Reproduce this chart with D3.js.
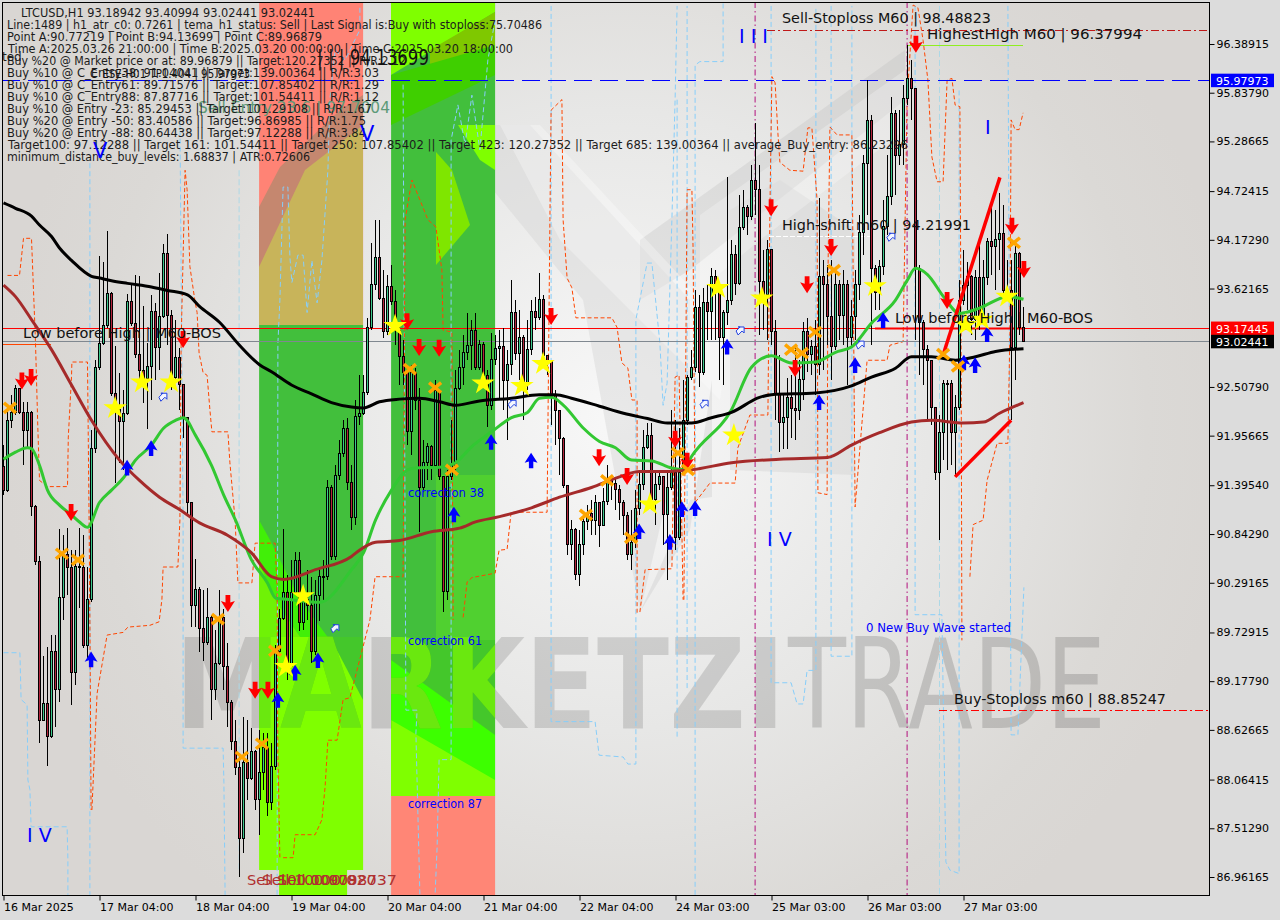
<!DOCTYPE html>
<html><head><meta charset="utf-8">
<style>
html,body{margin:0;padding:0;background:#dcdcdc;overflow:hidden}
svg{display:block}
text{font-family:"DejaVu Sans",sans-serif}
</style>
<script src="https://cdn.jsdelivr.net/npm/d3@7/dist/d3.min.js"></script>
</head><body><div id="chart"></div>
<script>
const firstOpen = 91.61;
const closes = [
91.34,92.13,92.22,92.49,92.22,92.01,92.22,91.15,90.53,88.73,
88.93,88.55,89.51,89.08,90.13,90.61,90.46,89.28,90.48,90.47,
89.58,90.10,91.81,92.73,93.00,93.20,93.57,92.43,92.25,92.12,
92.21,93.48,93.23,92.87,92.69,92.60,92.74,93.36,92.95,93.31,
94.02,93.32,92.62,92.84,92.53,92.16,91.20,90.04,90.22,89.77,
89.62,89.90,89.08,89.38,89.90,89.34,88.94,88.49,88.20,87.40,
88.26,88.08,88.38,87.84,88.14,88.43,87.81,88.21,89.51,89.89,
90.18,89.34,90.18,90.54,89.84,90.10,90.04,89.51,90.15,90.36,
90.36,91.37,90.59,91.51,91.75,92.04,91.43,91.03,92.17,92.21,
92.44,93.18,93.67,93.97,93.51,93.13,93.65,93.47,93.15,92.85,
92.67,92.00,92.67,92.36,91.37,91.65,91.83,91.62,92.47,91.49,
90.19,91.49,91.62,92.49,92.73,92.90,92.98,93.15,92.73,92.99,
92.64,92.30,92.82,92.94,92.97,92.58,92.76,93.35,92.89,93.07,
92.55,92.93,93.36,93.29,93.50,92.86,92.80,92.42,92.24,91.93,
91.39,90.72,90.90,90.38,90.72,90.98,91.07,91.00,91.20,90.94,
91.21,91.45,91.42,91.35,91.20,91.05,90.61,90.75,91.13,91.40,
91.82,91.96,91.23,91.40,91.49,91.06,91.37,91.54,90.80,91.54,
92.13,92.62,92.73,93.41,92.67,93.46,93.36,93.76,93.64,93.07,
93.35,93.49,94.01,93.68,94.31,94.54,94.44,94.84,94.74,93.70,
93.55,94.06,93.14,92.42,92.11,92.16,92.39,92.26,92.24,92.59,
93.13,92.87,92.96,92.76,93.76,93.67,93.30,92.97,93.67,93.32,
93.67,93.07,93.30,93.67,94.26,95.04,95.52,93.85,93.58,93.87,
94.32,94.66,95.60,95.13,95.25,95.77,96.00,95.88,93.85,93.24,
92.93,92.81,92.27,91.54,91.99,92.55,92.55,91.99,92.28,93.49,
93.66,93.76,93.27,93.75,93.27,93.75,94.15,94.10,94.18,94.25,
93.60,93.60,92.95,94.02,93.18,93.02];
const highs = [
91.85,92.27,92.42,92.53,92.50,92.34,92.34,92.24,91.17,90.60,
89.46,89.57,89.70,89.70,90.90,90.83,90.91,90.66,90.66,90.91,
90.83,90.47,92.02,92.81,93.99,93.92,94.27,93.58,92.97,92.67,
92.47,93.56,93.66,93.78,93.76,93.42,93.00,93.55,93.46,93.80,
94.13,94.24,93.38,93.27,92.95,92.54,92.16,91.20,90.56,90.24,
90.21,90.23,89.93,89.76,90.21,89.99,89.61,88.97,88.74,88.34,
88.77,88.74,88.65,88.40,88.63,88.59,88.59,88.48,89.59,89.99,
90.90,90.38,90.55,90.64,90.64,90.21,90.44,90.36,90.32,90.46,
90.55,91.45,91.40,91.62,91.91,92.13,92.16,91.62,92.36,92.64,
92.64,93.29,94.14,94.40,94.40,93.83,93.78,93.89,93.60,93.21,
93.04,92.76,92.76,92.72,92.50,91.91,91.87,91.85,92.59,92.47,
91.49,91.57,92.13,92.70,92.93,93.10,93.35,93.27,93.35,93.04,
93.02,92.70,93.12,93.10,93.15,93.18,92.93,93.72,93.49,93.38,
93.10,93.27,93.49,93.53,93.80,93.55,92.87,92.81,92.47,92.25,
91.94,91.39,91.00,90.91,90.89,91.06,91.17,91.23,91.29,91.20,
91.36,91.62,91.48,91.48,91.40,91.23,91.09,91.12,91.34,91.57,
92.02,92.10,92.10,91.57,91.57,91.26,91.55,92.25,92.13,92.04,
92.59,92.64,92.93,93.60,93.55,93.63,93.66,93.85,93.83,93.66,
93.38,94.88,94.17,94.11,94.68,94.74,94.57,95.02,95.49,95.02,
94.06,94.17,94.06,93.27,92.87,92.42,92.61,92.64,92.98,92.81,
93.24,93.29,93.04,93.27,94.65,93.94,93.89,93.94,93.83,93.72,
93.83,93.72,93.49,93.83,94.45,95.13,95.98,95.59,93.89,93.94,
94.62,95.13,95.79,95.64,95.64,95.93,96.38,96.21,95.89,93.89,
93.27,92.98,92.81,92.27,92.19,92.59,92.59,92.59,92.42,93.72,
94.06,93.92,93.78,93.83,94.17,93.94,94.19,94.57,94.51,94.70,
94.57,93.94,93.94,94.11,94.03,93.41];
const lows = [
91.29,91.32,92.04,92.19,92.20,91.62,91.80,91.05,90.49,88.48,
88.73,88.22,88.54,88.66,88.94,89.87,90.15,88.91,89.14,90.01,
89.55,89.44,90.07,91.76,92.70,92.98,93.18,92.40,91.42,91.65,
91.57,92.19,93.20,92.84,92.51,92.33,92.03,92.36,92.59,92.70,
93.29,92.98,92.47,92.60,92.25,91.93,91.06,89.79,89.79,89.51,
89.41,89.59,88.74,88.97,89.36,89.08,88.66,88.40,88.12,86.96,
87.23,87.83,88.06,87.72,87.44,87.95,87.65,87.72,88.17,89.47,
89.87,89.19,89.36,90.15,89.75,89.76,89.87,89.38,89.47,89.86,
90.10,90.32,90.55,90.55,91.45,91.71,91.34,90.89,90.95,92.08,
92.19,92.42,93.15,93.60,93.49,93.06,93.10,93.44,92.98,92.53,
92.53,91.85,91.74,92.25,90.87,91.34,91.45,91.45,91.60,91.45,
89.96,90.10,91.45,91.57,92.47,92.53,92.81,92.70,92.70,92.70,
92.61,92.05,92.25,92.76,92.36,92.25,91.91,92.64,92.81,92.59,
92.13,92.47,92.87,93.15,93.27,92.76,92.64,92.08,91.85,91.51,
91.36,90.61,90.55,90.32,90.26,90.61,90.89,90.83,90.83,90.70,
91.00,91.17,91.23,91.12,91.00,90.83,90.55,90.44,90.69,91.06,
91.34,91.80,91.12,90.95,91.34,90.72,90.32,91.34,90.66,90.77,
91.51,92.08,92.59,92.68,92.51,92.64,93.04,93.04,93.04,92.59,
92.53,93.21,93.44,93.55,93.66,94.28,94.23,94.40,94.45,93.10,
93.15,93.04,92.98,92.13,91.77,91.80,91.80,91.93,91.91,92.13,
92.36,92.68,92.64,92.42,92.64,92.70,92.98,92.59,92.93,93.04,
92.98,92.53,92.95,93.04,93.49,94.00,94.45,92.98,93.38,93.38,
93.78,94.23,94.57,94.68,95.02,95.02,95.70,95.53,93.04,92.64,
92.53,92.13,92.08,91.45,90.77,91.68,91.57,91.62,91.51,92.25,
93.44,93.38,93.10,93.04,93.15,93.21,93.66,93.78,93.60,93.83,
93.49,93.49,92.13,92.59,93.10,93.02];

const timeTickBars = [0,24,48,72,96,120,144,168,192,216,240];
const timeTickLabels = ["16 Mar 2025","17 Mar 04:00","18 Mar 04:00","19 Mar 04:00","20 Mar 04:00","21 Mar 04:00","22 Mar 04:00","24 Mar 03:00","25 Mar 03:00","26 Mar 03:00","27 Mar 03:00"];
const priceTicks = [96.38915,95.83790,95.28665,94.72415,94.17290,93.62165,92.50790,91.95665,91.39540,90.84290,90.29165,89.72915,89.17790,88.62665,88.06415,87.51290,86.96165];

const maBlack = [[0,94.59],[3,94.53],[7,94.44],[9,94.34],[12,94.21],[14,94.08],[17,93.94],[22,93.76],[24,93.74],[27,93.71],[31,93.68],[37,93.64],[41,93.60],[46,93.55],[49,93.42],[54,93.24],[59,92.98],[64,92.76],[67,92.68],[72,92.53],[77,92.43],[82,92.33],[87,92.28],[90,92.27],[94,92.34],[99,92.37],[104,92.38],[109,92.34],[113,92.30],[119,92.35],[127,92.38],[134,92.42],[138,92.42],[142,92.38],[149,92.29],[155,92.21],[161,92.15],[166,92.10],[172,92.10],[177,92.16],[182,92.22],[189,92.39],[192,92.42],[203,92.44],[212,92.52],[217,92.62],[223,92.72],[227,92.85],[232,92.85],[238,92.81],[243,92.85],[248,92.91],[255,92.94]];
const maBrown = [[0,93.66],[3,93.53],[7,93.27],[12,92.93],[17,92.53],[22,92.13],[29,91.68],[34,91.45],[39,91.26],[44,91.12],[49,90.97],[56,90.83],[62,90.63],[67,90.36],[70,90.33],[78,90.44],[87,90.59],[89,90.66],[93,90.75],[99,90.77],[107,90.87],[114,90.91],[118,90.98],[124,91.04],[132,91.14],[139,91.26],[147,91.37],[154,91.49],[159,91.55],[165,91.55],[172,91.57],[182,91.65],[194,91.69],[206,91.71],[212,91.85],[219,91.99],[227,92.11],[232,92.13],[240,92.10],[245,92.11],[249,92.21],[255,92.33]];
const maGreen = [[0,91.69],[3,91.77],[6,91.82],[7,91.81],[9,91.62],[11,91.34],[14,91.17],[17,91.06],[19,90.98],[21,90.92],[24,91.20],[27,91.34],[30,91.48],[33,91.68],[37,91.85],[40,92.04],[43,92.13],[45,92.16],[48,91.96],[52,91.62],[55,91.29],[58,91.00],[62,90.55],[66,90.29],[68,90.12],[72,90.10],[79,90.07],[87,90.44],[90,90.63],[93,91.00],[97,91.34],[101,91.57],[103,91.59],[109,91.60],[113,91.65],[117,91.83],[122,92.00],[127,92.16],[131,92.22],[134,92.38],[137,92.39],[140,92.30],[145,92.04],[149,91.89],[153,91.82],[157,91.68],[162,91.67],[167,91.59],[170,91.57],[172,91.72],[182,92.25],[187,92.73],[192,92.86],[197,92.78],[203,92.79],[208,92.90],[212,92.96],[217,93.23],[223,93.49],[226,93.72],[228,93.85],[231,93.78],[235,93.53],[239,93.34],[244,93.40],[251,93.53],[255,93.50]];

const orangeSegments = [
[[1,93.77],[4,93.77],[5,94.19],[7,94.19],[7.4,93.72],[8,93.01],[8.6,92.02],[9,91.45],[11,91.38],[16,91.38],[16.2,91.94],[17,92.62],[17.1,92.79],[21,92.79],[21.4,91.00],[21.6,89.87],[21.9,87.72]],
[[22.1,87.72],[23.4,89.04],[25.9,89.70],[29.9,89.73],[31.1,89.79],[36.6,89.81],[38.9,89.85],[39.6,90.10],[39.9,90.47],[43.6,90.47],[44.1,91.00],[44.4,93.00],[45.4,94.96],[45.9,94.74],[46.6,93.87],[47.9,93.47],[48.4,93.35],[48.9,92.89],[49.9,92.67],[50.9,92.64],[51.6,92.25],[52.1,92.00],[56.1,92.00],[56.6,91.65],[57.9,91.00],[58.6,90.29],[62.1,90.29],[62.9,90.74],[67.9,90.74],[68.4,90.24],[68.6,88.37],[69.1,87.16]],
[[69.9,87.18],[72.4,87.18],[72.9,87.44],[77.9,87.44],[79.6,87.61],[80.4,87.98],[81.1,88.51],[83.4,88.51],[84.9,88.97],[86.6,88.99],[91.6,89.87],[92.9,90.36],[99.9,90.36],[100.4,94.40],[102.1,94.85],[106.1,94.40],[108.1,94.32],[109.6,93.83],[109.9,93.15],[112.1,93.13],[112.4,89.87]],
[[114.9,89.90],[115.9,90.30],[117.1,90.35],[122.9,90.40],[123.9,90.66],[125.9,90.67],[126.9,91.09],[135.9,91.09],[136.6,94.40],[136.9,95.64],[139.6,95.76],[139.9,94.40],[140.9,93.74],[142.1,93.63],[143.1,93.29],[152.1,93.29],[153.4,93.18],[154.6,92.78],[156.1,92.72],[157.1,92.36],[158.4,92.36],[158.4,89.95]],
[[159.1,89.96],[160.4,90.44],[167.1,90.45],[167.9,92.62],[168.9,92.64],[169.9,90.10]],
[[170.1,90.10],[170.9,94.74],[172.1,94.74],[172.4,94.06],[172.9,91.20],[176.6,91.42],[182.9,91.42],[183.6,91.82],[186.6,92.19],[191.1,92.19],[191.6,94.51],[192.1,96.02],[192.9,95.95],[193.6,95.38],[194.1,95.05],[196.6,94.96],[199.9,94.95],[201.1,95.44],[202.1,95.44],[203.4,94.62],[203.6,91.31],[205.9,91.29],[206.1,93.72],[206.6,95.45],[208.4,95.36],[212.1,95.36],[212.4,93.87],[212.9,91.15],[215.9,92.81],[220.9,92.81],[221.6,92.98],[224.9,93.02],[225.9,95.76],[227.4,96.83],[228.6,96.80],[229.9,96.43],[231.1,95.98],[232.1,95.11],[233.4,94.83],[234.9,94.83],[235.9,95.98],[237.1,96.00],[237.9,95.70],[239.1,95.68],[239.4,92.93],[239.6,89.64]],
[[241.6,90.36],[242.4,90.95],[244.9,91.00],[245.9,91.45],[248.4,91.87],[251.1,91.87],[251.6,93.12],[251.9,95.53],[252.9,95.42],[253.9,95.42],[254.9,95.61]]
];
const skySegments = [
[[0,89.50],[4.1,89.50],[4.4,88.97],[5.9,88.91],[6.1,88.06],[6.6,87.95],[6.9,87.53],[15.9,87.53],[16.1,87.16],[16.1,86.76]],
[[21.6,95.04],[21.6,86.76]],
[[44.1,95.59],[44.9,91.00],[44.9,88.42],[54.9,88.42],[55.1,88.03],[55.4,86.76]],
[[68.4,86.76],[68.6,93.00],[69.1,93.49],[69.9,94.77],[71.1,94.77],[71.6,93.98],[72.1,93.69],[73.6,94.00],[74.9,94.00],[75.9,93.35],[77.1,93.94],[78.4,93.46],[79.6,93.94],[81.1,94.96],[81.6,95.76],[82.9,96.32],[85.4,96.21],[89.1,96.55],[89.1,96.82]],
[[99.9,95.93],[100.6,88.85],[103.4,88.85],[103.1,88.59],[104.1,86.76]],
[[122.9,96.66],[121.1,96.21],[119.1,95.19],[117.1,95.81],[115.4,95.25],[113.6,95.70],[111.9,95.30],[111.9,88.29],[108.9,88.29],[108.4,87.30],[107.9,86.76]],
[[136.9,96.82],[136.9,88.72],[147.9,88.72],[148.9,88.34],[154.9,88.32],[156.1,88.24],[158.1,88.24],[158.1,93.27],[160.9,93.91],[162.1,93.91],[164.1,93.00],[164.9,92.30],[165.9,92.55],[167.1,94.40],[167.9,95.76],[168.4,96.82]],
[[168.4,88.55],[168.4,95.76]],
[[170.9,89.10],[170.9,96.82]],
[[172.9,86.76],[172.9,96.15],[174.1,96.19],[179.9,96.19],[179.9,96.85]],
[[191.9,96.82],[191.9,89.16],[196.9,89.16],[198.4,88.92],[199.9,88.92],[200.9,89.30],[203.1,89.30],[203.1,96.82]],
[[206.9,96.82],[206.9,89.46],[212.1,89.46],[212.1,96.82]],
[[227.9,96.82],[227.9,89.93],[234.6,89.93],[235.6,87.13],[236.6,87.04],[238.9,87.00],[238.9,95.89]],
[[251.1,96.82],[251.9,88.57],[253.6,88.57],[255.1,90.24]]
];
const paleSegments = [
[[58.9,94.96],[58.9,87.05]],
[[234.0,96.82],[234.0,86.76]]
];
const waveVerticalBars = [187.9,225.9];

const redArrows = [[4.6,92.57],[6.9,92.61],[16.9,91.08],[44.9,93.04],[56.1,90.05],[62.9,89.07],[66.1,89.07],[100.9,93.24],[103.9,92.95],[108.9,92.94],[136.9,93.30],[148.9,91.70],[155.9,91.49],[167.9,91.91],[170.9,91.66],[191.9,94.53],[200.9,93.66],[206.9,94.08],[197.9,92.71],[235.9,93.48],[228.1,96.38],[252.1,94.32],[255.1,93.83]];
const blueArrows = [[21.9,89.43],[30.9,91.60],[36.9,91.82],[68.6,88.97],[72.9,89.28],[78.6,89.42],[112.6,91.07],[121.9,91.89],[131.9,91.68],[158.9,90.88],[166.6,90.76],[169.6,91.13],[172.9,91.14],[180.9,92.97],[203.9,92.34],[212.9,92.76],[219.9,93.27],[240.1,92.79],[242.9,92.76],[245.9,93.11]];
const stars = [[27.9,92.27],[34.6,92.56],[41.9,92.56],[70.6,89.34],[74.9,90.14],[97.9,93.20],[119.9,92.55],[129.6,92.52],[134.9,92.77],[161.6,91.18],[178.6,93.63],[182.6,91.96],[189.6,93.51],[217.9,93.65],[240.6,93.21],[244.6,93.27],[250.9,93.53]];
const crosses = [[1.6,92.27],[14.6,90.62],[18.6,90.55],[53.6,89.88],[59.6,88.32],[64.6,88.47],[67.9,89.52],[101.6,92.71],[107.9,92.50],[112.1,91.57],[145.6,91.06],[150.9,91.45],[156.9,90.80],[168.6,91.76],[171.1,91.57],[196.9,92.93],[199.6,92.89],[202.9,93.13],[207.6,93.83],[234.9,92.88],[238.6,92.74],[252.6,94.14]];
const hollowArrows = [[39.6,92.38],[82.6,89.76],[126.9,92.30],[174.9,92.30],[183.9,93.13],[213.9,92.97],[221.6,94.19]];
const trendLines = [[[234.9,92.87],[249.1,94.88]],[[237.9,91.49],[251.9,92.13]]];

const infoLines = [
 ["LTCUSD,H1   93.18942 93.40994 93.02441 93.02441",21,315],
 ["Line:1489 | h1_atr_c0: 0.7261 | tema_h1_status: Sell | Last Signal is:Buy with stoploss:75.70486",7,542],
 ["Point A:90.77219 | Point B:94.13699 | Point C:89.96879",7,322],
 ["Time A:2025.03.26 21:00:00 | Time B:2025.03.20 00:00:00 | Time C:2025.03.20 18:00:00",8,513],
 ["Buy %20 @ Market price or at: 89.96879 || Target:120.27352 || R/R:2.12",7,406],
 ["Buy %10 @ C_Entry38: 91.04041 || Target:139.00364 || R/R:3.03",7,379],
 ["Buy %10 @ C_Entry61: 89.71576 || Target:107.85402 || R/R:1.29",7,379],
 ["Buy %10 @ C_Entry88: 87.87716 || Target:101.54411 || R/R:1.12",7,379],
 ["Buy %10 @ Entry -23: 85.29453 || Target:101.29108 || R/R:1.67",7,372],
 ["Buy %20 @ Entry -50: 83.40586 || Target:96.86985 || R/R:1.75",7,366],
 ["Buy %20 @ Entry -88: 80.64438 || Target:97.12288 || R/R:3.84",7,366],
 ["Target100: 97.12288 || Target 161: 101.54411 || Target 250: 107.85402 || Target 423: 120.27352 || Target 685: 139.00364 || average_Buy_entry: 86.23296",8,908],
 ["minimum_distance_buy_levels: 1.68837 | ATR:0.72606",7,310]
];

const W=1280,H=920,L=2,T=2,R=1209,B=895;
const x=d3.scaleLinear().domain([0,255]).range([3.5,1023.5]);
const y=d3.scaleLinear().domain([86.96165,96.38915]).range([877,44]);
const svg=d3.select("#chart").append("svg").attr("width",W).attr("height",H);
const defs=svg.append("defs");
const grad=defs.append("radialGradient").attr("id","bg").attr("gradientUnits","userSpaceOnUse")
 .attr("cx",620).attr("cy",420).attr("r",620);
grad.append("stop").attr("offset","0").attr("stop-color","#f8f8f8");
grad.append("stop").attr("offset","0.5").attr("stop-color","#e7e7e6");
grad.append("stop").attr("offset","0.85").attr("stop-color","#dbd9d6");
grad.append("stop").attr("offset","1").attr("stop-color","#d9d6d3");
defs.append("clipPath").attr("id","plot").append("rect").attr("x",L).attr("y",T).attr("width",R-L).attr("height",B-T);
const zc=defs.append("clipPath").attr("id","zoneClip");
zc.append("rect").attr("x",259).attr("y",T).attr("width",104).attr("height",B-T);
zc.append("rect").attr("x",391).attr("y",T).attr("width",104).attr("height",B-T);

svg.append("rect").attr("width",W).attr("height",H).attr("fill","#dcdcdc");
svg.append("rect").attr("x",L).attr("y",T).attr("width",R-L).attr("height",B-T).attr("fill","url(#bg)");
const g=svg.append("g").attr("clip-path","url(#plot)");

// logo behind the chart
const logo=g.append("g");
const poly=(par,pts,fill,op)=>par.append("polygon").attr("points",pts).attr("fill",fill).attr("opacity",op==null?1:op);
poly(logo,"440,125 530,125 690,300 690,400 640,612 583,300","#d2d2d2",0.40);
poly(logo,"640,240 905,50 905,100 690,270 640,300","#bdbdbd",0.30);
poly(logo,"500,125 540,125 730,330 720,400 560,240","#ffffff",0.30);
poly(logo,"640,612 690,500 712,497 712,380 690,530","#c8c8c8",0.35);
poly(logo,"730,470 855,475 855,230 780,180 730,210","#c8c8c8",0.30);
poly(logo,"700,215 905,70 905,130 760,240 700,290","#ffffff",0.25);

// zone 1
const z1=g.append("g");
const rz=(par,a,b,t,bt,f)=>par.append("rect").attr("x",a).attr("y",t).attr("width",b-a).attr("height",bt-t).attr("fill",f);
const x63=x(63.9),x90=x(89.9),x97=x(96.9),x123=x(122.9);
rz(z1,x63,x90,T,325,"#ff8375");
poly(z1,"259,207 280,167 340,110 363,95 363,325 259,325","#c5876f");
poly(z1,"259,267 305,170 363,125 363,325 259,325","#c8b45a");
rz(z1,x63,x90,325,640,"#42bf3c");
poly(z1,"259,520 270,540 300,600 330,640 259,640","#41ef08");
poly(z1,"259,563 277,603 300,637 363,637 363,640 259,640","#6ff206");
rz(z1,x63,x90,637,870,"#7fff00");
poly(z1,"330,637 363,637 363,700","#44c72b");
rz(z1,x(68.9),x(85.9),870,B,"#7fff00");
// zone 2
const z2=g.append("g");
rz(z2,x97,x123,T,796,"#42bf3c");
poly(z2,"391,2 495,2 495,12 391,75","#7fff00");
poly(z2,"430,50 495,12 495,45 430,85","#7fc800");
poly(z2,"391,75 495,45 495,75 391,125","#3fcf00");
poly(z2,"458,125 495,125 495,170 480,160","#7fff00");
poly(z2,"436,152 452,170 470,225 436,265","#7fe600");
poly(z2,"436,475 495,475 495,640 436,640","#50d030");
poly(z2,"391,640 495,640 495,780 391,700","#44c72b");
poly(z2,"391,660 495,735 495,795 391,720","#3dff00");
poly(z2,"391,720 495,780 495,796 391,796","#7fff00");
rz(z2,x97,x123,796,B,"#ff8676");

// watermark
const mark=(par,f,op)=>par.append("text").attr("x",175).attr("y",728).attr("font-family","Liberation Sans").attr("font-weight",700)
 .attr("font-size",124).attr("textLength",610).attr("lengthAdjust","spacingAndGlyphs")
 .attr("fill",f).attr("fill-opacity",op).text("MARKETZI");
mark(g,"#000",0.13);
mark(g.append("g").attr("clip-path","url(#zoneClip)"),"#6ae80f",1);
g.append("text").attr("x",788).attr("y",728).attr("font-family","Liberation Sans")
 .attr("font-size",124).attr("textLength",318).attr("lengthAdjust","spacingAndGlyphs")
 .attr("fill","#000").attr("fill-opacity",0.15).text("TRADE");

// dashed stepped lines
const lineGen=d3.line().x(d=>x(d[0])).y(d=>y(d[1]));
const drawSegs=(segs,c,w,dash)=>g.append("g").selectAll("path").data(segs).join("path").attr("d",lineGen)
 .attr("fill","none").attr("stroke",c).attr("stroke-width",w).attr("stroke-dasharray",dash);
drawSegs(paleSegments,"#add8e6",1,"6 3");
drawSegs(skySegments,"#87cefa",1,"5 3");
drawSegs(orangeSegments,"#ff4500",1,"4 2.5");
g.append("g").selectAll("line").data(waveVerticalBars).join("line")
 .attr("x1",d=>x(d)).attr("x2",d=>x(d)).attr("y1",T).attr("y2",B)
 .attr("stroke","#b3107c").attr("stroke-width",1).attr("stroke-dasharray","6 3 1.5 3");

// horizontal levels
const hline=(p,a,b,c,w,dash)=>g.append("line").attr("x1",a).attr("x2",b).attr("y1",Math.round(y(p))+0.5).attr("y2",Math.round(y(p))+0.5)
 .attr("stroke",c).attr("stroke-width",w).attr("stroke-dasharray",dash||null);
hline(95.97973,L,R,"#0000ff",1,"18 8");
hline(93.02441,L,R,"#808890",1);
hline(93.17445,L,R,"#ff0000",1);
hline(96.55,767,R,"#c01818",1,"8 3 2 3");
hline(96.37994,907,1023,"#90ee20",1);
hline(88.85247,939,R,"#ff0000",1,"8 3 2 3");
hline(94.21991,769,870,"#ffffff",1,"5 2");
hline(92.99,L,51,"#ff4500",1);
g.append("line").attr("x1",875).attr("x2",1023).attr("y1",328.5).attr("y2",328.5).attr("stroke","#ff0000").attr("stroke-width",2);

// candles
const candles=closes.map((c,i)=>({i,o:i?closes[i-1]:firstOpen,c,h:highs[i],l:lows[i]}));
const cg=g.append("g").attr("shape-rendering","crispEdges");
cg.selectAll("line").data(candles).join("line")
 .attr("x1",d=>x(d.i)).attr("x2",d=>x(d.i)).attr("y1",d=>y(d.h)).attr("y2",d=>y(d.l)).attr("stroke","#000");
cg.selectAll("rect").data(candles).join("rect")
 .attr("x",d=>x(d.i)-1).attr("width",2)
 .attr("y",d=>y(Math.max(d.o,d.c))).attr("height",d=>Math.max(1,Math.abs(y(d.o)-y(d.c))))
 .attr("fill",d=>d.c>=d.o?"#3cc88c":"#b4243c").attr("stroke","#000");

// moving averages
const curve=d3.line().x(d=>x(d[0])).y(d=>y(d[1])).curve(d3.curveMonotoneX);
const ma=(d,c,w)=>g.append("path").datum(d).attr("d",curve).attr("fill","none").attr("stroke",c).attr("stroke-width",w);
ma(maGreen,"#32c832",3);
ma(maBrown,"#a52a2a",3);
ma(maBlack,"#000000",3);
g.append("g").selectAll("path").data(trendLines).join("path").attr("d",lineGen)
 .attr("stroke","#ff0000").attr("stroke-width",3.5).attr("fill","none");

// markers
const place=d=>`translate(${x(d[0])},${y(d[1])})`;
const arrowD="M-2.4,-9 L2.4,-9 L2.4,-1.5 L7,-3 L0,8 L-7,-3 L-2.4,-1.5 Z";
g.append("g").selectAll("path").data(redArrows).join("path").attr("d",arrowD).attr("transform",place).attr("fill","#ff0000");
g.append("g").selectAll("path").data(blueArrows).join("path").attr("d",arrowD)
 .attr("transform",d=>place(d)+" rotate(180) scale(0.92)").attr("fill","#0000ff");
const starD=d3.symbol().type(d3.symbolStar).size(170)();
g.append("g").selectAll("path").data(stars).join("path").attr("d",starD).attr("transform",place).attr("fill","#ffff00");
const crossG=g.append("g").selectAll("g").data(crosses).join("g").attr("transform",place);
crossG.append("path").attr("d","M-6,-5 L6,5 M-6,5 L6,-5").attr("stroke","#ffa500").attr("stroke-width",3.5).attr("fill","none");
g.append("g").selectAll("path").data(hollowArrows).join("path").attr("d","M-3,-1 L1,-5 L-1,-5 L5,-5 L5,1 L3,-1 L-1,3 Z")
 .attr("transform",place).attr("fill","#f4f6ff").attr("stroke","#2040e0").attr("stroke-width",1);

// texts on the chart
const tx=(s,a,b,fs,c,len)=>{const t=g.append("text").attr("x",a).attr("y",b).attr("font-size",fs).attr("fill",c).text(s);
 if(len)t.attr("textLength",len).attr("lengthAdjust","spacingAndGlyphs"); return t;};
tx("Sell Entry 23.6 | 97.7004",198,113,15,"#5d9a78",192);
tx("ted",2,61,12,"#222");
tx("C_ESE-H01 TP1.404 | 95.97973",90,78,12,"#111",160);
infoLines.forEach((l,i)=>tx(l[0],l[1],17+12*i,12,"#1c1c1c",l[2]-l[1]));
tx("| | | 94.13699",317,65,21,"#111",112);
tx("V",93,158,21,"#0000ff");
tx("V",360,141,21,"#0000ff");
tx("I V",27,842,19,"#0000ff");
tx("I I I",739,43,19,"#0000ff");
tx("I V",767,546,19,"#0000ff");
tx("I",985,134,19,"#0000ff");
tx("Sell-Stoploss M60 | 98.48823",782,23,14.5,"#111",209);
tx("HighestHigh   M60 | 96.37994",927,39,14.5,"#111",215);
tx("High-shift m60 | 94.21991",782,230,14.5,"#111",189);
tx("Low before High | M60-BOS",23,338,14.5,"#111",198);
tx("Low before High | M60-BOS",895,323,14.5,"#111",198);
tx("Buy-Stoploss m60 | 88.85247",954,704,14.5,"#111",212);
tx("correction 38",408,497,12,"#0000ff",76);
tx("correction 61",408,645,12,"#0000ff",74);
tx("correction 87",408,808,12,"#0000ff",74);
tx("0 New Buy Wave started",866,632,12,"#0000ff",145);
["Sell 100.00978","Sell 100.00987","Sell 100.02037"].forEach((s,i)=>tx(s,247+i*15,885,14,"#b03030",110+i*5));

// axes
const axR=d3.axisRight(y).tickValues(priceTicks).tickSize(5).tickFormat(d3.format(".5f"));
const axRG=svg.append("g").attr("transform",`translate(${R+0.5},0)`).call(axR);
axRG.select(".domain").remove();
axRG.selectAll("text").attr("font-family","DejaVu Sans").attr("font-size",11).attr("fill","#000").attr("x",7);
const axB=d3.axisBottom(x).tickValues(timeTickBars).tickSize(5).tickFormat((d,i)=>timeTickLabels[i]);
const axBG=svg.append("g").attr("transform",`translate(0,${B+0.5})`).call(axB);
axBG.select(".domain").remove();
axBG.selectAll("text").attr("font-family","DejaVu Sans").attr("font-size",11).attr("fill","#000").attr("text-anchor","start").attr("x",0).attr("y",8);
svg.append("rect").attr("x",L+0.5).attr("y",T+0.5).attr("width",R-L).attr("height",B-T).attr("fill","none").attr("stroke","#000");

// price flags
[[95.97973,"#0000ff","#fff"],[93.17445,"#ff0000","#fff"],[93.02441,"#000","#fff"]].forEach(([p,bg,fg])=>{
 const yy=y(p);
 svg.append("rect").attr("x",1211).attr("y",yy-6.5).attr("width",63).attr("height",13.5).attr("fill",bg);
 svg.append("text").attr("x",1216).attr("y",yy+4.5).attr("font-size",11).attr("fill",fg).text(p.toFixed(5));
});
</script></body></html>
